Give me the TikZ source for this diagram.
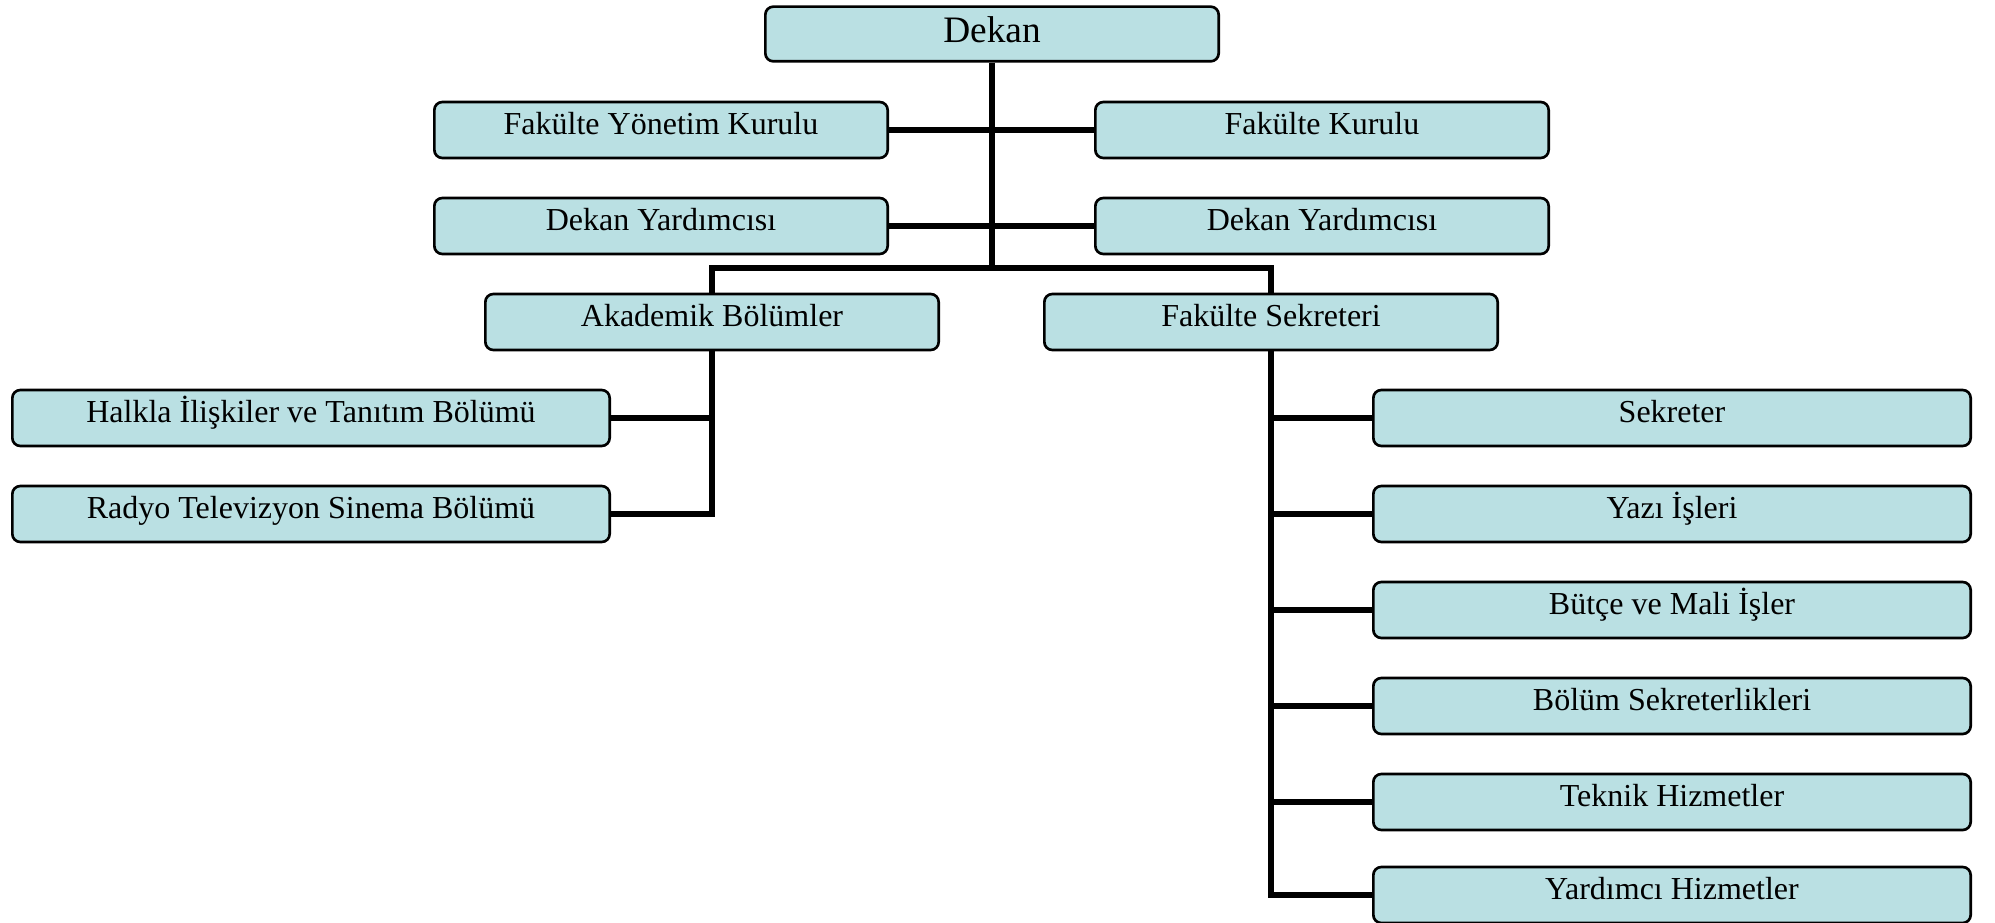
\documentclass[tikz,border=0pt]{standalone}
\usepackage{fontspec}
\setmainfont{Liberation Serif}
\usepackage{xcolor}
\usetikzlibrary{positioning, calc}
\definecolor{boxblue}{RGB}{186,224,227}
\tikzset{
    unit/.style={draw=black, line width=1pt, fill=boxblue, rounded corners=3pt,
        minimum width=170pt, minimum height=21pt, inner sep=0pt,
        text height=8.5pt, text depth=5pt, font=\fontsize{12}{14}\selectfont},
    wideunit/.style={unit, minimum width=224pt},
    link/.style={line width=2.6pt}
}

\begin{document}
\begin{tikzpicture}[x=0.375pt, y=-0.375pt]
    \useasboundingbox (0, 0) rectangle (1995, 923);
    \node[unit, minimum height=20.5pt, text height=10pt, text depth=3.5pt,
        font=\fontsize{14}{16}\selectfont] (dekan) at (992, 34) {Dekan};
    \node[unit] (fyk) at (661, 130) {Fakülte Yönetim Kurulu};
    \node[unit] (fk) at (1322, 130) {Fakülte Kurulu};
    \node[unit] (dy1) at (661, 226) {Dekan Yardımcısı};
    \node[unit] (dy2) at (1322, 226) {Dekan Yardımcısı};
    \node[unit] (akad) at (712, 322) {Akademik Bölümler};
    \node[unit] (sekr) at (1271, 322) {Fakülte Sekreteri};
    \node[wideunit] (halkla) at (311, 418) {Halkla İlişkiler ve Tanıtım Bölümü};
    \node[wideunit] (radyo) at (311, 514) {Radyo Televizyon Sinema Bölümü};
    \foreach \name/\y/\label in {
        sek1/418/Sekreter,
        sek2/514/Yazı İşleri,
        sek3/610/Bütçe ve Mali İşler,
        sek4/706/Bölüm Sekreterlikleri,
        sek5/802/Teknik Hizmetler,
        sek6/895/Yardımcı Hizmetler} {
        \node[wideunit] (\name) at (1672, \y) {\label};
    }
    \coordinate (bar) at (992, 268);
    \draw[link]
    (dekan.south) -- (bar)
    (fyk.east) -- (fk.west)
    (dy1.east) -- (dy2.west)
    (akad.north) |- (bar) -| (sekr.north)
    (akad.south) |- (radyo.east)
    (halkla.east) -- (halkla.east -| akad.south)
    (sekr.south) |- (sek6.west);
    \foreach \name in {sek1, sek2, sek3, sek4, sek5} {
        \draw[link] (\name.west -| sekr.south) -- (\name.west);
    }
\end{tikzpicture}
\end{document}
